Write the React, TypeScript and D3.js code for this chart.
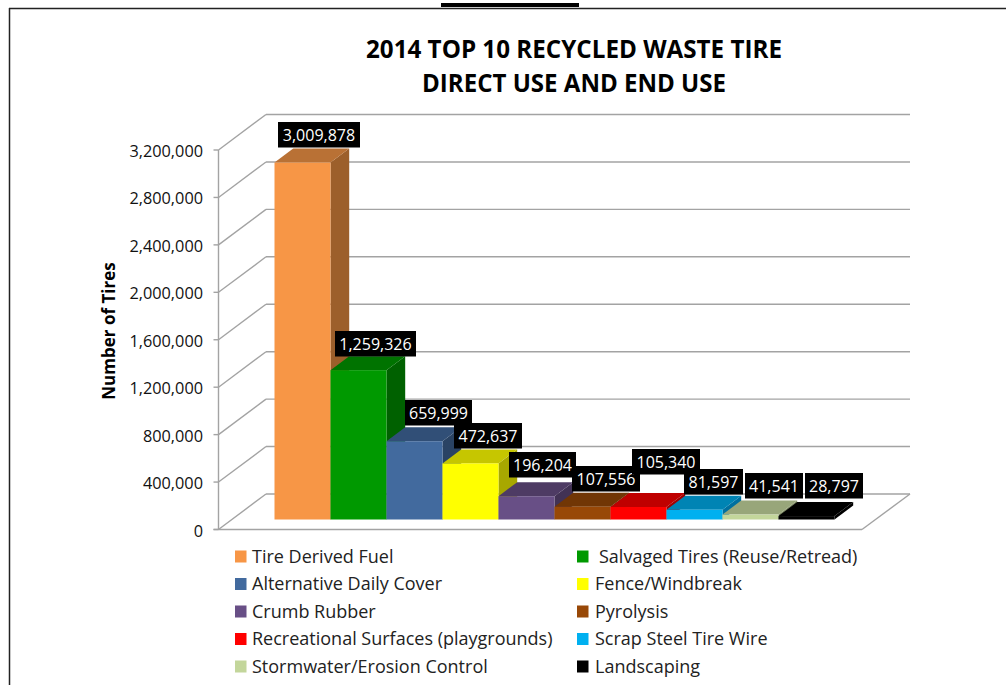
import React from "react";
import * as d3 from "d3";

const categories = [
  "Tire Derived Fuel",
  "Salvaged Tires (Reuse/Retread)",
  "Alternative Daily Cover",
  "Fence/Windbreak",
  "Crumb Rubber",
  "Pyrolysis",
  "Recreational Surfaces (playgrounds)",
  "Scrap Steel Tire Wire",
  "Stormwater/Erosion Control",
  "Landscaping",
];
const tires = [3009878, 1259326, 659999, 472637, 196204, 107556, 105340, 81597, 41541, 28797];
const frontColors = ["#F79646", "#009900", "#426A9E", "#FFFF00", "#684F86", "#984807", "#FF0000", "#00B0F0", "#C3D69B", "#000000"];
const topColors = ["#B97135", "#007300", "#314F77", "#C6C600", "#4E3B64", "#713605", "#BF0000", "#0084B4", "#98A67A", "#000000"];
const sideColors = ["#9C5F2B", "#006100", "#2A4364", "#A8A800", "#423255", "#602E04", "#A20000", "#0070A0", "#7E8A64", "#000000"];
const axisTicks = [0, 400000, 800000, 1200000, 1600000, 2000000, 2400000, 2800000, 3200000];
const titleLines = ["2014 TOP 10 RECYCLED WASTE TIRE", "DIRECT USE AND END USE"];

// Where each data label box sits: left edge, top edge and width.
const labelBoxes: [number, number, number][] = [
  [278, 122, 82], [335, 331, 81], [405, 400, 67], [454, 423, 68], [509, 452, 67],
  [572, 466, 68], [632, 449, 68], [684, 469, 59], [745, 473, 58], [805, 473, 58],
];

const wallDx = 47.5;
const wallDy = -35.5;
const barDx = 18.7;
const barDy = -14;
const fontFamily = "'Open Sans', sans-serif";

const y = d3.scaleLinear().domain([0, 3200000]).range([529.5, 150]);
const x = d3.scaleBand<string>().domain(categories).range([274.5, 834.5]).padding(0);
const fmt = d3.format(",");
const barBase = 519.5;
const barPx = (v: number) => y(0) - y(v);

export default function App() {
  const grid = "#a3a3a3";
  const poly = (pts: [number, number][]) => d3.line()(pts) + "Z";
  return (
    <svg width={1006} height={685} style={{ position: "absolute", left: 0, top: 0, background: "#fff" }}>
      {/* frame and the bar above it */}
      <rect x={441} y={3} width={138} height={4} fill="#000" />
      <line x1={9} y1={8.5} x2={1006} y2={8.5} stroke="#222" strokeWidth={1.5} />
      <line x1={9.5} y1={8} x2={9.5} y2={685} stroke="#222" strokeWidth={1.5} />

      {titleLines.map((t, i) => (
        <text key={t} x={574} y={57.5 + i * 34.5} textAnchor="middle" fontFamily={fontFamily} fontWeight={700} fontSize={25}
          textLength={i === 0 ? 416 : 304} lengthAdjust="spacingAndGlyphs" fill="#000">{t}</text>
      ))}

      {/* back wall grid, side wall diagonals and floor */}
      {axisTicks.map((t) => (
        <g key={t} stroke={grid} strokeWidth={1.4} fill="none">
          <line x1={218.5 + wallDx} y1={y(t) + wallDy} x2={910} y2={y(t) + wallDy} />
          <line x1={218.5} y1={y(t)} x2={218.5 + wallDx} y2={y(t) + wallDy} />
          <line x1={213.5} y1={y(t)} x2={218.5} y2={y(t)} />
        </g>
      ))}
      <line x1={218.5} y1={y(3200000)} x2={218.5} y2={y(0)} stroke={grid} strokeWidth={1.4} />
      <line x1={213.5} y1={y(0)} x2={862} y2={y(0)} stroke={grid} strokeWidth={1.4} />
      <line x1={862} y1={y(0)} x2={910} y2={y(0) + wallDy} stroke={grid} strokeWidth={1.4} />

      {axisTicks.map((t) => (
        <text key={t} x={203} y={y(t) + 7} textAnchor="end" fontFamily={fontFamily} fontSize={16.3} fill="#111">{fmt(t)}</text>
      ))}
      <text transform="translate(115,331) rotate(-90)" textAnchor="middle" fontFamily={fontFamily} fontWeight={700} fontSize={17} fill="#000">Number of Tires</text>

      {/* bars, painted left to right so each front hides its neighbour's side */}
      {categories.map((c, i) => {
        const x0 = x(c)!;
        const x1 = x0 + x.bandwidth();
        const top = barBase - barPx(tires[i]);
        return (
          <g key={c}>
            <path d={poly([[x1, top], [x1 + barDx, top + barDy], [x1 + barDx, barBase + barDy], [x1, barBase]])} fill={sideColors[i]} />
            <path d={poly([[x0, top], [x0 + barDx, top + barDy], [x1 + barDx, top + barDy], [x1, top]])} fill={topColors[i]} />
            <rect x={x0} y={top} width={x.bandwidth()} height={barPx(tires[i])} fill={frontColors[i]} />
          </g>
        );
      })}

      {/* value labels */}
      {tires.map((v, i) => {
        const [bx, by, bw] = labelBoxes[i];
        return (
          <g key={v}>
            <rect x={bx} y={by} width={bw} height={25.5} fill="#000" />
            <text x={bx + bw / 2} y={by + 19} textAnchor="middle" fontFamily={fontFamily} fontSize={16} fill="#fff">{fmt(v)}</text>
          </g>
        );
      })}

      {/* legend, two columns */}
      {categories.map((c, i) => {
        const col = i % 2;
        const row = Math.floor(i / 2);
        const cy = 556.5 + row * 27.5;
        const sx = col === 0 ? 235 : 577;
        const tx = col === 0 ? 252 : i === 1 ? 599 : 595;
        return (
          <g key={c}>
            <rect x={sx} y={cy - 6} width={11.5} height={12} fill={frontColors[i]} />
            <text x={tx} y={cy + 6} fontFamily={fontFamily} fontSize={18} fill="#222">{c}</text>
          </g>
        );
      })}
    </svg>
  );
}
